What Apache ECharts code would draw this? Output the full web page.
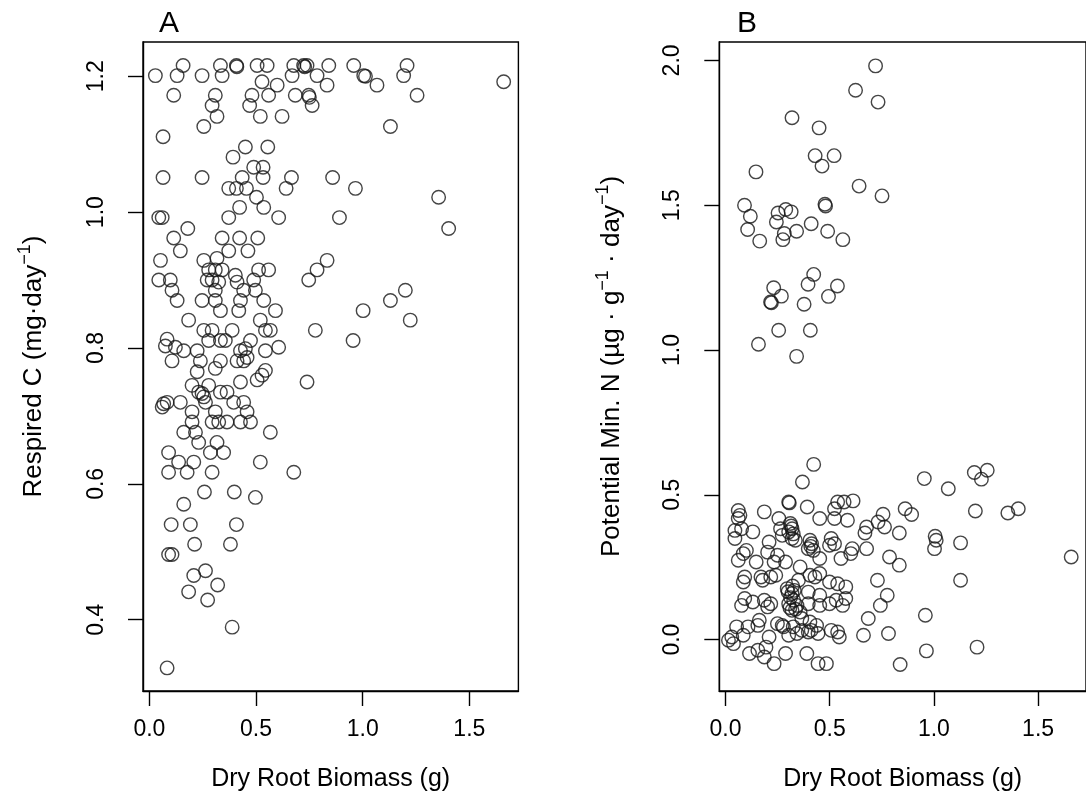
<!DOCTYPE html>
<html><head><meta charset="utf-8">
<script src="https://cdn.jsdelivr.net/npm/echarts@6/dist/echarts.min.js"></script>
<style>html,body{margin:0;padding:0;overflow:hidden;background:#fff}#c{width:1086px;height:812px}</style>
</head><body><div id="c"></div>
<script>
// Panel A: [dry root biomass (g), respired C (mg/day)]
const pointsA = [
[0.158,1.216],[0.333,1.216],[0.408,1.216],[0.410,1.214],[0.505,1.216],[0.552,1.216],[0.677,1.216],[0.723,1.216],[0.728,1.214],[0.739,1.216],[0.841,1.216],[0.958,1.216],[1.208,1.216],
[0.028,1.201],[0.130,1.201],[0.247,1.201],[0.341,1.201],[0.669,1.201],[0.786,1.201],[1.005,1.201],[1.013,1.200],[1.192,1.201],
[0.528,1.192],[1.661,1.192],[0.599,1.187],[0.833,1.187],[1.067,1.187],
[0.114,1.172],[0.309,1.172],[0.481,1.172],[0.559,1.172],[0.684,1.172],[0.747,1.172],[0.750,1.169],[1.255,1.172],
[0.294,1.157],[0.470,1.157],[0.763,1.157],[0.317,1.141],[0.520,1.141],[0.622,1.141],[0.255,1.126],[1.130,1.126],
[0.064,1.111],[0.450,1.096],[0.555,1.096],[0.392,1.081],[0.489,1.066],[0.533,1.066],
[0.064,1.051],[0.247,1.051],[0.435,1.051],[0.533,1.051],[0.666,1.051],[0.859,1.051],
[0.372,1.035],[0.408,1.035],[0.455,1.035],[0.641,1.035],[0.966,1.035],[0.502,1.022],[1.356,1.022],
[0.423,1.007],[0.536,1.007],[0.044,0.992],[0.060,0.992],[0.372,0.992],[0.606,0.992],[0.891,0.992],
[0.180,0.976],[1.403,0.976],[0.114,0.962],[0.341,0.962],[0.423,0.962],[0.508,0.962],
[0.145,0.943],[0.372,0.943],[0.462,0.943],[0.052,0.929],[0.255,0.929],[0.833,0.929],[0.317,0.932],
[0.278,0.915],[0.309,0.915],[0.341,0.915],[0.512,0.915],[0.559,0.915],[0.786,0.915],[0.403,0.907],
[0.294,0.900],[0.271,0.900],[0.044,0.900],[0.098,0.900],[0.489,0.900],[0.747,0.900],[0.325,0.897],[0.411,0.897],
[0.106,0.885],[0.309,0.885],[0.442,0.885],[0.497,0.885],[1.200,0.885],
[0.130,0.870],[0.247,0.870],[0.309,0.870],[0.427,0.870],[0.536,0.870],[1.130,0.870],
[0.333,0.855],[0.419,0.855],[0.591,0.855],[1.002,0.855],[0.184,0.841],[0.520,0.841],[1.223,0.841],
[0.255,0.826],[0.294,0.826],[0.388,0.826],[0.544,0.826],[0.567,0.826],[0.778,0.826],
[0.278,0.811],[0.333,0.811],[0.356,0.811],[0.474,0.811],[0.955,0.811],[0.083,0.813],[0.075,0.803],[0.122,0.801],[0.606,0.801],[0.450,0.799],
[0.161,0.796],[0.224,0.796],[0.427,0.796],[0.544,0.796],[0.458,0.786],
[0.106,0.781],[0.239,0.781],[0.333,0.781],[0.411,0.781],[0.442,0.781],[0.309,0.770],[0.544,0.767],[0.224,0.765],[0.528,0.760],[0.505,0.753],
[0.427,0.750],[0.739,0.750],[0.200,0.745],[0.278,0.745],[0.231,0.735],[0.333,0.735],[0.364,0.735],[0.247,0.733],[0.255,0.728],
[0.395,0.720],[0.442,0.720],[0.083,0.720],[0.145,0.720],[0.263,0.720],[0.067,0.718],[0.060,0.713],[0.458,0.706],[0.200,0.706],[0.309,0.706],
[0.200,0.691],[0.294,0.691],[0.325,0.691],[0.364,0.691],[0.427,0.691],[0.474,0.691],[0.161,0.676],[0.216,0.676],[0.567,0.676],
[0.231,0.661],[0.317,0.661],[0.286,0.646],[0.348,0.646],[0.090,0.646],[0.137,0.632],[0.208,0.632],[0.520,0.632],
[0.090,0.617],[0.177,0.617],[0.294,0.617],[0.677,0.617],[0.258,0.588],[0.398,0.588],[0.497,0.580],[0.161,0.570],
[0.102,0.540],[0.192,0.540],[0.408,0.540],[0.212,0.511],[0.380,0.511],[0.090,0.496],[0.106,0.496],
[0.263,0.472],[0.208,0.465],[0.320,0.451],[0.184,0.441],[0.273,0.429],[0.388,0.389],[0.083,0.329]
];
// Panel B: [dry root biomass (g), potential min. N]
const pointsB = [
[0.720,1.981],[0.624,1.897],[0.732,1.856],[0.319,1.802],[0.449,1.767],[0.430,1.671],[0.521,1.671],[0.463,1.635],[0.146,1.615],[0.641,1.566],
[0.751,1.532],[0.091,1.500],[0.477,1.503],[0.480,1.497],[0.119,1.462],[0.252,1.473],[0.289,1.485],[0.315,1.477],[0.244,1.442],[0.411,1.436],
[0.106,1.416],[0.282,1.402],[0.341,1.410],[0.490,1.410],[0.164,1.376],[0.275,1.381],[0.563,1.381],[0.423,1.261],[0.231,1.215],[0.396,1.227],
[0.537,1.221],[0.268,1.186],[0.216,1.166],[0.220,1.163],[0.494,1.185],[0.377,1.158],[0.255,1.068],[0.407,1.068],[0.158,1.020],[0.341,0.978],
[0.423,0.605],[0.369,0.544],[0.954,0.556],[1.069,0.521],[1.194,0.577],[1.256,0.585],[1.228,0.554],
[0.303,0.475],[0.306,0.472],[0.392,0.458],[0.538,0.475],[0.569,0.475],[0.523,0.452],[0.612,0.479],[0.061,0.446],[0.069,0.429],[0.061,0.418],
[0.186,0.441],[0.256,0.418],[0.311,0.401],[0.319,0.383],[0.303,0.372],[0.452,0.418],[0.523,0.418],[0.585,0.412],[0.045,0.377],[0.077,0.383],
[0.131,0.372],[0.264,0.383],[0.272,0.360],[0.319,0.349],[0.335,0.343],[0.405,0.343],[0.413,0.331],[0.397,0.314],[0.421,0.308],[0.507,0.349],
[0.523,0.331],[0.499,0.326],[0.608,0.314],[0.045,0.349],[0.209,0.337],[0.100,0.308],[0.085,0.297],[0.061,0.274],[0.147,0.268],[0.202,0.302],
[0.249,0.291],[0.233,0.268],[0.288,0.268],[0.358,0.251],[0.452,0.280],[0.554,0.280],[0.601,0.297],[0.092,0.216],[0.170,0.216],[0.241,0.222],
[0.405,0.222],[0.452,0.228],[0.315,0.392],[0.325,0.365],[0.409,0.322],
[0.085,0.199],[0.178,0.205],[0.217,0.216],[0.350,0.205],[0.429,0.216],[0.499,0.199],[0.538,0.193],[0.577,0.182],[0.092,0.142],[0.131,0.130],
[0.077,0.118],[0.186,0.136],[0.217,0.124],[0.202,0.113],[0.296,0.176],[0.319,0.159],[0.327,0.136],[0.303,0.124],[0.343,0.118],[0.319,0.101],
[0.358,0.095],[0.397,0.164],[0.397,0.124],[0.452,0.153],[0.452,0.118],[0.499,0.124],[0.531,0.136],[0.562,0.118],[0.577,0.142],[0.366,0.073],
[0.300,0.165],[0.312,0.145],[0.330,0.170],[0.336,0.105],[0.309,0.110],[0.322,0.185],
[0.405,0.061],[0.437,0.049],[0.249,0.055],[0.272,0.049],[0.162,0.067],[0.155,0.049],[0.053,0.044],[0.108,0.044],[0.030,0.009],[0.014,-0.002],
[0.038,-0.014],[0.085,0.015],[0.209,0.009],[0.303,0.015],[0.343,0.021],[0.444,0.021],[0.507,0.032],[0.538,0.026],[0.546,0.009],[0.115,-0.048],
[0.155,-0.037],[0.194,-0.026],[0.186,-0.060],[0.288,-0.048],[0.233,-0.083],[0.390,-0.048],[0.444,-0.083],[0.484,-0.083],
[0.278,0.044],[0.325,0.044],[0.411,0.032],[0.366,0.032],[0.397,0.026],
[0.862,0.452],[0.893,0.432],[1.199,0.444],[1.355,0.437],[1.405,0.452],[0.756,0.433],[0.732,0.406],[0.763,0.389],[0.677,0.389],[0.669,0.368],
[0.834,0.368],[1.006,0.357],[1.011,0.343],[1.003,0.314],[1.128,0.334],[1.659,0.285],[0.677,0.314],[0.787,0.285],[0.834,0.257],[0.729,0.205],
[1.128,0.205],[0.776,0.153],[0.743,0.118],[0.685,0.073],[0.959,0.084],[0.662,0.015],[0.782,0.021],[0.964,-0.039],[1.207,-0.026],[0.838,-0.086]
];
const xTicks = [0, 0.5, 1.0, 1.5];
const yTicksA = [0.4, 0.6, 0.8, 1.0, 1.2];
const yTicksB = [0.0, 0.5, 1.0, 1.5, 2.0];
const panelTitles = ['A', 'B'];
const xTitle = 'Dry Root Biomass (g)';

const FONT = '"Liberation Sans", Arial, Helvetica, sans-serif';
const fmt = v => v.toFixed(1);
const lineStyle = {color: '#000', width: 1.4};

function xAxis(gi) {
  return {
    type: 'value', gridIndex: gi, min: -0.03, max: 1.73,
    name: xTitle, nameLocation: 'middle', nameGap: 76,
    nameTextStyle: {fontSize: 25, color: '#000', fontFamily: FONT},
    axisLine: {show: true, onZero: false, lineStyle},
    axisTick: {show: true, inside: false, length: 15, customValues: xTicks, lineStyle},
    axisLabel: {show: true, customValues: xTicks, formatter: fmt, margin: 27, fontSize: 23, color: '#000', fontFamily: FONT},
    splitLine: {show: false}
  };
}
function yAxis(gi, min, max, ticks, nameRich, gap) {
  return {
    type: 'value', gridIndex: gi, min, max,
    name: nameRich, nameLocation: 'middle', nameGap: gap,
    nameTextStyle: {
      fontSize: 26, color: '#000', fontFamily: FONT, lineHeight: 36,
      rich: {
        n: {fontSize: 26, fontFamily: FONT, color: '#000', lineHeight: 36},
        s: {fontSize: 18, fontFamily: FONT, color: '#000', lineHeight: 16, verticalAlign: 'top'}
      }
    },
    axisLine: {show: true, onZero: false, lineStyle},
    axisTick: {show: true, inside: false, length: 15, customValues: ticks, lineStyle},
    axisLabel: {show: true, customValues: ticks, formatter: fmt, rotate: 90, margin: 35, fontSize: 23, color: '#000', fontFamily: FONT},
    splitLine: {show: false}
  };
}
const symbolStyle = {color: 'rgba(0,0,0,0)', borderColor: '#161616', borderWidth: 1.4};

const chart = echarts.init(document.getElementById('c'), null, {renderer: 'canvas'});
chart.setOption({
  animation: false,
  backgroundColor: '#fff',
  title: [
    {text: panelTitles[0], left: 159, top: 9, padding: 0, textStyle: {fontSize: 30, fontWeight: 'normal', color: '#000', fontFamily: FONT}},
    {text: panelTitles[1], left: 737, top: 9, padding: 0, textStyle: {fontSize: 30, fontWeight: 'normal', color: '#000', fontFamily: FONT}}
  ],
  grid: [
    {left: 143, top: 42, width: 375.4, height: 649, show: true, borderColor: '#000', borderWidth: 1.4, backgroundColor: 'transparent'},
    {left: 719.3, top: 42, width: 375.4, height: 649, show: true, borderColor: '#000', borderWidth: 1.4, backgroundColor: 'transparent'}
  ],
  xAxis: [xAxis(0), xAxis(1)],
  yAxis: [
    yAxis(0, 0.295, 1.2505, yTicksA, '{n|Respired C (mg\u00b7day}{s|\u22121}{n|)}', 91),
    yAxis(1, -0.1775, 2.0635, yTicksB, '{n|Potential Min. N (\u00b5g \u00b7 g}{s|\u22121}{n| \u00b7 day}{s|\u22121}{n|)}', 89)
  ],
  series: [
    {type: 'scatter', xAxisIndex: 0, yAxisIndex: 0, data: pointsA, symbol: 'circle', symbolSize: 13.5, itemStyle: symbolStyle, emphasis: {disabled: true}, silent: true},
    {type: 'scatter', xAxisIndex: 1, yAxisIndex: 1, data: pointsB, symbol: 'circle', symbolSize: 13.5, itemStyle: symbolStyle, emphasis: {disabled: true}, silent: true}
  ]
});
</script></body></html>
